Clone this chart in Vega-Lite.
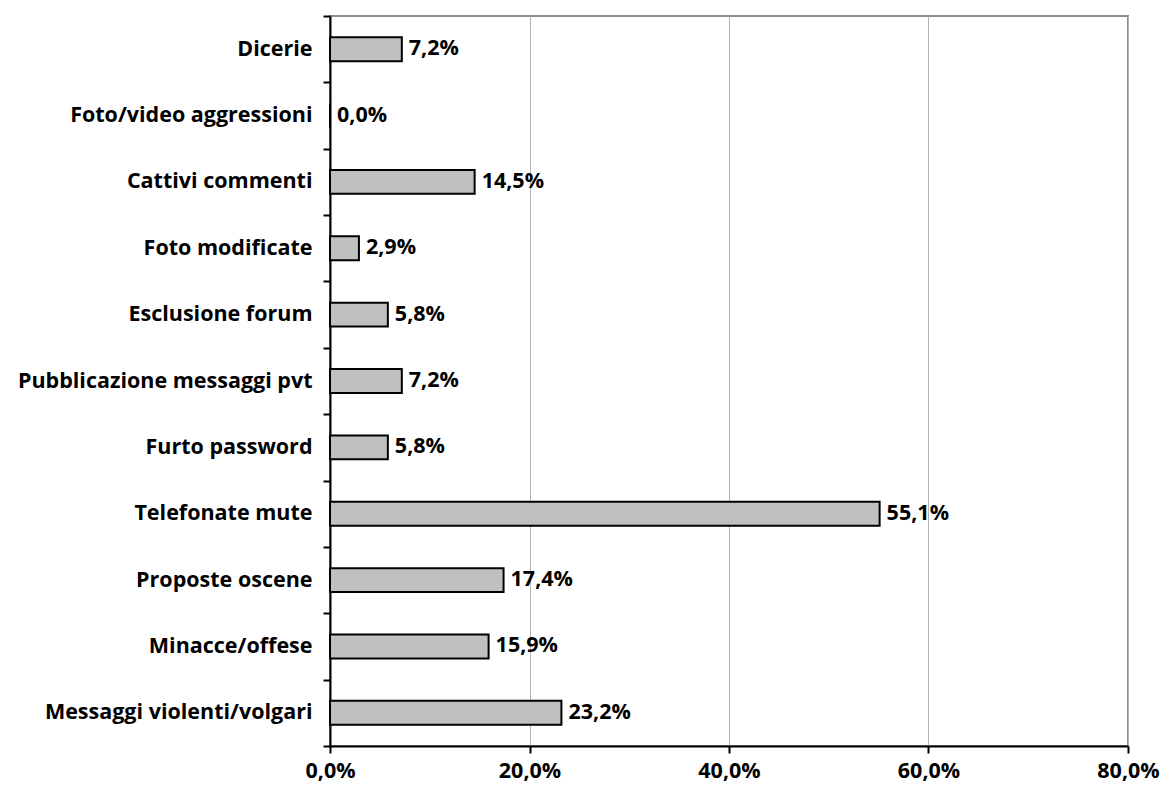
{
  "$schema": "https://vega.github.io/schema/vega-lite/v6.json",
  "width": 798,
  "height": 730,
  "autosize": {"type": "none"},
  "padding": {"left": 330, "top": 16, "right": 34, "bottom": 53},
  "background": "white",
  "config": {
    "locale": {
      "number": {"decimal": ",", "thousands": ".", "grouping": [3], "currency": ["€", ""]}
    },
    "font": "Open Sans",
    "view": {"stroke": "#8c8c8c", "strokeWidth": 2}
  },
  "data": {
    "values": [
      {"categoria": "Dicerie", "quota": 0.072},
      {"categoria": "Foto/video aggressioni", "quota": 0.0},
      {"categoria": "Cattivi commenti", "quota": 0.145},
      {"categoria": "Foto modificate", "quota": 0.029},
      {"categoria": "Esclusione forum", "quota": 0.058},
      {"categoria": "Pubblicazione messaggi pvt", "quota": 0.072},
      {"categoria": "Furto password", "quota": 0.058},
      {"categoria": "Telefonate mute", "quota": 0.551},
      {"categoria": "Proposte oscene", "quota": 0.174},
      {"categoria": "Minacce/offese", "quota": 0.159},
      {"categoria": "Messaggi violenti/volgari", "quota": 0.232}
    ]
  },
  "encoding": {
    "y": {
      "field": "categoria",
      "type": "nominal",
      "sort": null,
      "scale": {"paddingInner": 0, "paddingOuter": 0},
      "axis": {
        "title": null,
        "tickBand": "extent",
        "domainColor": "black",
        "domainWidth": 2,
        "tickColor": "black",
        "tickWidth": 2,
        "tickSize": 7,
        "labelPadding": 11,
        "labelFont": "Open Sans",
        "labelFontSize": 21.5,
        "labelFontWeight": "bold",
        "labelColor": "black",
        "labelLimit": 400
      }
    },
    "x": {
      "field": "quota",
      "type": "quantitative",
      "scale": {"domain": [0, 0.8], "nice": false},
      "axis": {
        "title": null,
        "values": [0, 0.2, 0.4, 0.6, 0.8],
        "format": ".1%",
        "grid": true,
        "gridColor": "#b4b4b4",
        "gridWidth": 1,
        "domainColor": "black",
        "domainWidth": 2,
        "tickColor": "black",
        "tickWidth": 2,
        "tickSize": 7,
        "labelPadding": 7,
        "labelFont": "Open Sans",
        "labelFontSize": 21.5,
        "labelFontWeight": "bold",
        "labelColor": "black",
        "labelFlush": false
      }
    }
  },
  "layer": [
    {
      "mark": {
        "type": "bar",
        "height": {"band": 0.36},
        "fill": "#c0c0c0",
        "stroke": "black",
        "strokeWidth": 2
      }
    },
    {
      "mark": {
        "type": "text",
        "align": "left",
        "baseline": "middle",
        "dx": 7,
        "font": "Open Sans",
        "fontSize": 21.5,
        "fontWeight": "bold",
        "color": "black"
      },
      "encoding": {
        "text": {"field": "quota", "type": "quantitative", "format": ".1%"}
      }
    }
  ]
}
